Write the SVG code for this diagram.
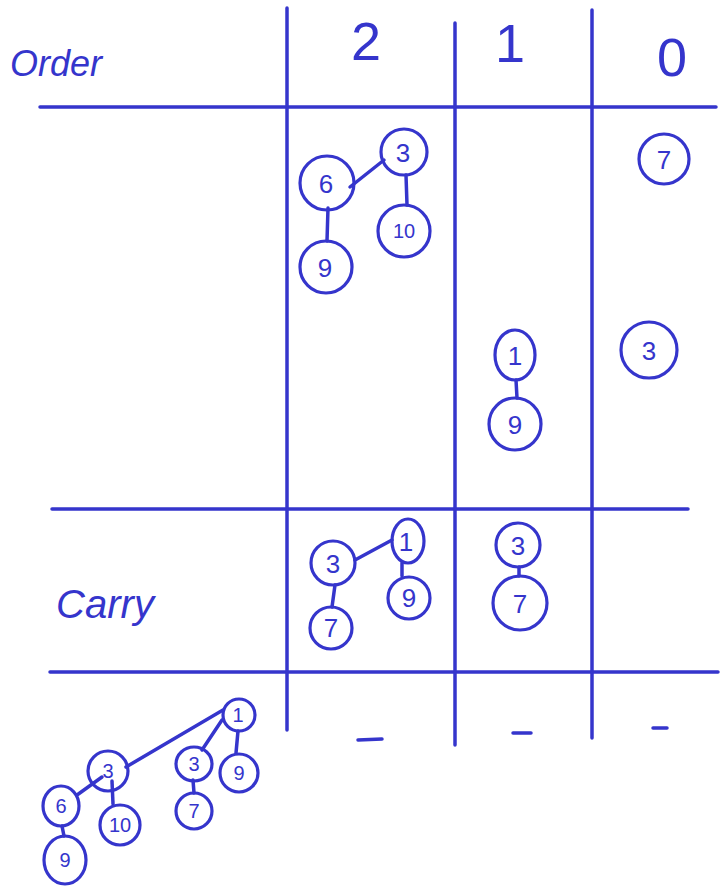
<svg xmlns="http://www.w3.org/2000/svg" width="720" height="889" viewBox="0 0 720 889">
<style>
.ln{stroke:#3535cc;stroke-width:3.5;stroke-linecap:round;fill:none}
.nd{stroke:#3535cc;stroke-width:3.2;fill:none}
.t{fill:#3535cc;font-family:"Liberation Sans","DejaVu Sans",sans-serif;text-anchor:middle}
.n{font-size:26px}
.s{font-size:20px}
.h{font-size:54px;font-weight:normal}
</style>
<rect width="720" height="889" fill="#ffffff"/>
<g id="grid">
<line class="ln" x1="40" y1="107" x2="716" y2="107"/>
<line class="ln" x1="52" y1="509" x2="688" y2="509"/>
<line class="ln" x1="50" y1="672" x2="718" y2="672"/>
<line class="ln" x1="287" y1="8" x2="287" y2="730"/>
<line class="ln" x1="455" y1="23" x2="455" y2="745"/>
<line class="ln" x1="592" y1="10" x2="592" y2="738"/>
<line class="ln" x1="358" y1="740" x2="382" y2="739"/>
<line class="ln" x1="513" y1="733" x2="531" y2="733"/>
<line class="ln" x1="653" y1="728" x2="667" y2="728"/>
</g>
<g id="labels">
<text class="t" x="56" y="76" font-size="36" style="font-style:italic">Order</text>
<text class="t" x="105" y="618" font-size="40" style="font-style:italic">Carry</text>
<text class="t h" x="366" y="60">2</text>
<text class="t h" x="510" y="62">1</text>
<text class="t h" x="672" y="76">0</text>
</g>
<g id="connectors">
<line class="ln" x1="350" y1="187" x2="384" y2="160"/>
<line class="ln" x1="328" y1="208" x2="327" y2="241"/>
<line class="ln" x1="406" y1="175" x2="407" y2="205"/>
<line class="ln" x1="516" y1="380" x2="517" y2="398"/>
<line class="ln" x1="355" y1="560" x2="392" y2="540"/>
<line class="ln" x1="335" y1="585" x2="332" y2="607"/>
<line class="ln" x1="402" y1="563" x2="402" y2="576"/>
<line class="ln" x1="519" y1="567" x2="519" y2="576"/>
<line class="ln" x1="223" y1="710" x2="126" y2="767"/>
<line class="ln" x1="222" y1="720" x2="202" y2="750"/>
<line class="ln" x1="238" y1="731" x2="236" y2="753"/>
<line class="ln" x1="102" y1="777" x2="77" y2="795"/>
<line class="ln" x1="112" y1="781" x2="113" y2="804"/>
<line class="ln" x1="193" y1="780" x2="194" y2="793"/>
<line class="ln" x1="62" y1="826" x2="64" y2="836"/>
</g>
<g id="o2-6"><circle class="nd" cx="327" cy="183" r="27"/><text class="t n" x="326" y="193">6</text></g>
<g id="o2-3"><circle class="nd" cx="404" cy="152" r="23"/><text class="t n" x="403" y="162">3</text></g>
<g id="o2-10"><circle class="nd" cx="404" cy="231" r="26"/><text class="t s" x="404" y="238">10</text></g>
<g id="o2-9"><circle class="nd" cx="326" cy="267" r="26"/><text class="t n" x="325" y="277">9</text></g>
<g id="o1-1"><ellipse class="nd" cx="515" cy="355" rx="20" ry="25"/><text class="t n" x="515" y="365">1</text></g>
<g id="o1-9"><circle class="nd" cx="515" cy="424" r="26"/><text class="t n" x="515" y="434">9</text></g>
<g id="o0-7"><circle class="nd" cx="664" cy="159" r="25"/><text class="t n" x="664" y="169">7</text></g>
<g id="o0-3"><circle class="nd" cx="649" cy="350" r="28"/><text class="t n" x="649" y="360">3</text></g>
<g id="c2-3"><circle class="nd" cx="333" cy="563" r="22"/><text class="t n" x="333" y="573">3</text></g>
<g id="c2-1"><ellipse class="nd" cx="408" cy="541" rx="16" ry="22"/><text class="t n" x="406" y="551">1</text></g>
<g id="c2-9"><circle class="nd" cx="409" cy="598" r="21"/><text class="t n" x="409" y="607">9</text></g>
<g id="c2-7"><circle class="nd" cx="331" cy="628" r="21"/><text class="t n" x="331" y="637">7</text></g>
<g id="c1-3"><circle class="nd" cx="518" cy="545" r="22"/><text class="t n" x="518" y="555">3</text></g>
<g id="c1-7"><circle class="nd" cx="520" cy="603" r="27"/><text class="t n" x="520" y="613">7</text></g>
<g id="r-1"><circle class="nd" cx="239" cy="715" r="16"/><text class="t s" x="238" y="722">1</text></g>
<g id="r-3a"><circle class="nd" cx="108" cy="771" r="20"/><text class="t s" x="108" y="778">3</text></g>
<g id="r-3b"><ellipse class="nd" cx="194" cy="764" rx="18" ry="17"/><text class="t s" x="194" y="771">3</text></g>
<g id="r-9a"><circle class="nd" cx="239" cy="773" r="19"/><text class="t s" x="239" y="780">9</text></g>
<g id="r-6"><ellipse class="nd" cx="61" cy="806" rx="18" ry="20"/><text class="t s" x="61" y="813">6</text></g>
<g id="r-10"><circle class="nd" cx="120" cy="825" r="20"/><text class="t s" x="120" y="832">10</text></g>
<g id="r-7"><circle class="nd" cx="194" cy="811" r="18"/><text class="t s" x="194" y="818">7</text></g>
<g id="r-9b"><ellipse class="nd" cx="65" cy="860" rx="21" ry="24"/><text class="t s" x="65" y="867">9</text></g>
</svg>
